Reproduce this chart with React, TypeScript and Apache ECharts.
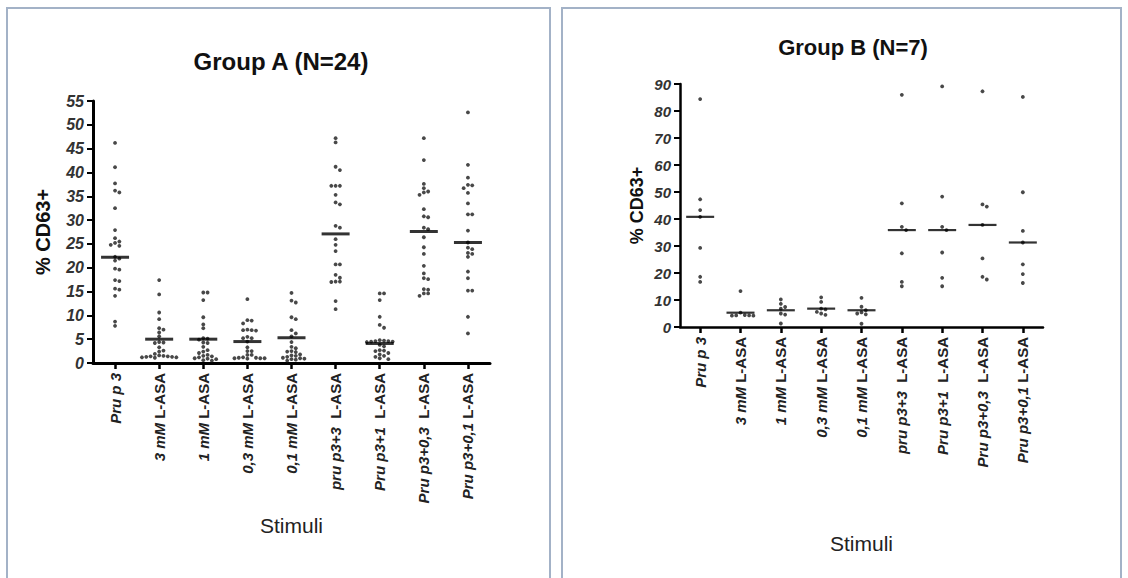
import React, { useEffect, useRef } from "react";
import * as echarts from "echarts";

const FONT = '"Liberation Sans", Arial, Helvetica, sans-serif';

// Stimulus labels
const stimuliA = [
  "Pru p 3",
  "3 mM L-ASA",
  "1 mM L-ASA",
  "0,3 mM L-ASA",
  "0,1 mM L-ASA",
  "pru p3+3  L-ASA",
  "Pru p3+1  L-ASA",
  "Pru p3+0,3  L-ASA",
  "Pru p3+0,1 L-ASA",
];
const stimuliB = [
  "Pru p 3",
  "3 mM L-ASA",
  "1 mM L-ASA",
  "0,3 mM L-ASA",
  "0,1 mM L-ASA",
  "pru p3+3  L-ASA",
  "Pru p3+1  L-ASA",
  "Pru p3+0,3  L-ASA",
  "Pru p3+0,1 L-ASA",
];

// Group A (N=24): % CD63+ per patient
const aPruP3 = [46.2, 41.1, 37.7, 36.2, 35.8, 32.5, 27.9, 26.2, 25.5, 25.2, 24.8, 24.6, 22.3, 21.9, 21.5, 19.8, 19.6, 17.4, 17.2, 15.6, 15.4, 14.1, 8.7, 7.8];
const a3mM = [17.4, 14.4, 10.6, 9.2, 7.3, 7.0, 6.4, 5.6, 4.4, 4.3, 4.2, 3.3, 2.6, 2.4, 1.9, 1.6, 1.5, 1.4, 1.4, 1.3, 1.3, 1.2, 1.2, 1.1];
const a1mM = [14.8, 14.8, 13.2, 9.6, 8.1, 7.3, 5.2, 5.1, 4.9, 4.3, 4.2, 3.4, 2.7, 2.4, 2.1, 1.7, 1.5, 1.4, 1.2, 1.0, 0.9, 0.8, 0.6, 0.5];
const a03mM = [13.4, 9.0, 8.9, 8.3, 7.0, 6.9, 6.9, 6.8, 5.5, 5.2, 5.2, 4.5, 3.3, 2.5, 2.5, 1.7, 1.7, 1.2, 1.1, 1.1, 1.0, 1.0, 1.0, 0.9];
const a01mM = [14.7, 13.1, 12.7, 9.6, 9.2, 6.9, 6.2, 5.6, 4.4, 3.4, 3.1, 2.5, 2.4, 2.3, 1.8, 1.6, 1.5, 1.3, 1.1, 1.0, 0.9, 0.8, 0.7, 0.5];
const aPlus3 = [47.2, 46.3, 41.2, 40.5, 37.2, 37.2, 37.2, 35.3, 33.7, 33.3, 28.8, 28.4, 26.0, 24.8, 23.5, 20.7, 20.7, 18.5, 17.9, 17.1, 17.1, 17.0, 13.0, 11.3];
const aPlus1 = [14.6, 14.6, 13.2, 9.7, 8.0, 7.4, 4.8, 4.7, 4.6, 4.6, 4.5, 4.5, 4.4, 3.8, 3.5, 2.7, 2.6, 2.5, 2.1, 1.8, 1.5, 1.3, 1.0, 0.8];
const aPlus03 = [47.2, 42.6, 37.6, 36.7, 36.0, 35.8, 35.3, 32.3, 30.8, 30.6, 28.4, 28.1, 26.4, 24.3, 22.9, 20.4, 18.8, 17.8, 17.6, 15.5, 15.4, 14.6, 14.6, 14.1];
const aPlus01 = [52.6, 41.6, 38.9, 37.4, 37.3, 36.7, 35.7, 33.5, 31.2, 31.2, 27.8, 25.3, 24.2, 23.9, 23.1, 22.9, 22.3, 19.2, 17.8, 15.2, 15.2, 9.7, 6.2];
const medianA = [22.2, 5.0, 5.0, 4.5, 5.3, 27.1, 4.1, 27.6, 25.3];

// Group B (N=7)
const bPruP3 = [84.4, 47.3, 43.3, 40.8, 29.3, 18.6, 16.7];
const b3mM = [13.3, 5.3, 4.4, 4.3, 4.3, 4.2, 4.2];
const b1mM = [10.2, 8.6, 7.4, 6.8, 5.0, 4.6, 1.3];
const b03mM = [11.0, 9.3, 6.8, 6.5, 5.6, 5.0, 4.5];
const b01mM = [10.8, 7.5, 6.2, 5.4, 5.0, 4.7, 1.2];
const bPlus3 = [86.0, 45.8, 37.1, 35.9, 27.3, 16.7, 15.1];
const bPlus1 = [89.1, 48.3, 37.1, 35.9, 27.6, 18.2, 15.1];
const bPlus03 = [87.3, 45.4, 44.6, 37.8, 25.4, 18.6, 17.6];
const bPlus01 = [85.2, 49.9, 35.6, 31.3, 23.2, 19.6, 16.3];
const medianB = [40.8, 5.3, 6.2, 6.8, 6.2, 35.9, 35.9, 37.8, 31.3];

const groupA = [aPruP3, a3mM, a1mM, a03mM, a01mM, aPlus3, aPlus1, aPlus03, aPlus01];
const groupB = [bPruP3, b3mM, b1mM, b03mM, b01mM, bPlus3, bPlus1, bPlus03, bPlus01];

const ticksA = { max: 55, step: 5 };
const ticksB = { max: 90, step: 10 };

// Column-scatter spreading: nudge dots sideways so that neighbours do not overlap.
function spread(values: number[], pxPerUnit: number, dot: number, step: number): number[] {
  const order = values.map((v, i) => ({ v, i })).sort((a, b) => b.v - a.v);
  const placed: { x: number; y: number }[] = [];
  const offsets = new Array(values.length).fill(0);
  for (const p of order) {
    const y = p.v * pxPerUnit;
    for (let k = 0; k < 30; k++) {
      const x = k === 0 ? 0 : (k % 2 ? 1 : -1) * Math.ceil(k / 2) * step;
      if (placed.every((q) => Math.hypot(q.x - x, q.y - y) >= dot)) {
        placed.push({ x, y });
        offsets[p.i] = x;
        break;
      }
    }
  }
  return offsets;
}

function labelFormatter(v: string) {
  const idx = v.indexOf("L-ASA");
  if (idx < 0) return `{i|${v}}`;
  return `{i|${v.slice(0, idx)}}{n|L-ASA}`;
}

function makeXAxis(grid: number, cats: string[], lineW: number, gap: number, fs: number) {
  return {
    type: "category",
    gridIndex: grid,
    data: cats,
    boundaryGap: true,
    axisLine: { show: true, lineStyle: { color: "#000", width: lineW } },
    axisTick: { show: true, alignWithLabel: true, length: 6, lineStyle: { color: "#000", width: 2.5 } },
    axisLabel: {
      rotate: 90,
      margin: 10,
      interval: 0,
      formatter: labelFormatter,
      rich: {
        i: { fontStyle: "italic", fontWeight: "bold", fontSize: fs, fontFamily: FONT, color: "#222" },
        n: { fontWeight: "bold", fontSize: fs, fontFamily: FONT, color: "#222" },
      },
    },
    splitLine: { show: false },
    name: "Stimuli",
    nameLocation: "middle",
    nameGap: gap,
    nameTextStyle: { fontSize: 21, fontFamily: FONT, color: "#222", fontWeight: 500 },
  };
}

function makeYAxis(grid: number, t: { max: number; step: number }, lineW: number, gap: number, fs: number, nameFs: number) {
  return {
    type: "value",
    gridIndex: grid,
    min: 0,
    max: t.max,
    interval: t.step,
    axisLine: { show: true, lineStyle: { color: "#000", width: lineW } },
    axisTick: { show: true, length: 6, lineStyle: { color: "#000", width: 2 } },
    axisLabel: { fontStyle: "italic", fontWeight: "bold", fontSize: fs, fontFamily: FONT, color: "#333", margin: 9 },
    splitLine: { show: false },
    name: "% CD63+",
    nameLocation: "middle",
    nameRotate: 90,
    nameGap: gap,
    nameTextStyle: { fontSize: nameFs, fontWeight: "bold", fontFamily: FONT, color: "#111" },
  };
}

function makeSeries(grid: number, cols: number[][], medians: number[], pxPerUnit: number, lineH: number, lineW: number) {
  const points: any[] = [];
  cols.forEach((vals, ci) => {
    const offs = spread(vals, pxPerUnit, 3.8, 4.3);
    vals.forEach((v, k) => {
      points.push({ value: [ci, v], symbolOffset: [offs[k], 0] });
    });
  });
  return [
    {
      type: "scatter",
      xAxisIndex: grid,
      yAxisIndex: grid,
      symbol: "circle",
      symbolSize: 3.8,
      itemStyle: { color: "#1a1a1a" },
      data: points,
      z: 3,
    },
    {
      type: "scatter",
      xAxisIndex: grid,
      yAxisIndex: grid,
      symbol: "rect",
      symbolSize: [lineW, lineH],
      itemStyle: { color: "#000" },
      data: medians.map((m, i) => [i, m]),
      z: 4,
    },
  ];
}

export default function App() {
  const ref = useRef<HTMLDivElement>(null);

  useEffect(() => {
    if (!ref.current) return;
    const chart = echarts.init(ref.current, null, { renderer: "svg" });
    const pxA = 262 / ticksA.max;
    const pxB = 243 / ticksB.max;

    chart.setOption({
      animation: false,
      backgroundColor: "#ffffff",
      grid: [
        { left: 93, top: 101, width: 397, height: 262 },
        { left: 680, top: 84, width: 363, height: 243 },
      ],
      xAxis: [makeXAxis(0, stimuliA, 3, 152, 15), makeXAxis(1, stimuliB, 2.5, 206, 15)],
      yAxis: [makeYAxis(0, ticksA, 3, 40, 16, 20), makeYAxis(1, ticksB, 2.5, 34, 15, 18)],
      series: [
        ...makeSeries(0, groupA, medianA, pxA, 3, 28),
        ...makeSeries(1, groupB, medianB, pxB, 2.2, 28),
      ],
      graphic: [
        {
          type: "rect",
          shape: { x: 7, y: 8, width: 543, height: 590 },
          style: { fill: "none", stroke: "#a3b2c7", lineWidth: 2 },
          silent: true,
        },
        {
          type: "rect",
          shape: { x: 562, y: 8, width: 559, height: 590 },
          style: { fill: "none", stroke: "#a3b2c7", lineWidth: 2 },
          silent: true,
        },
        {
          type: "text",
          x: 281,
          y: 61,
          style: {
            text: "Group A (N=24)",
            fontSize: 24,
            fontWeight: "bold",
            fontFamily: FONT,
            fill: "#111",
            textAlign: "center",
            textVerticalAlign: "middle",
          },
        },
        {
          type: "text",
          x: 853,
          y: 47,
          style: {
            text: "Group B (N=7)",
            fontSize: 22,
            fontWeight: "bold",
            fontFamily: FONT,
            fill: "#111",
            textAlign: "center",
            textVerticalAlign: "middle",
          },
        },
      ],
    });

    return () => chart.dispose();
  }, []);

  return (
    <div
      ref={ref}
      style={{ position: "absolute", left: 0, top: 0, width: 1128, height: 578, background: "#fff" }}
    />
  );
}
